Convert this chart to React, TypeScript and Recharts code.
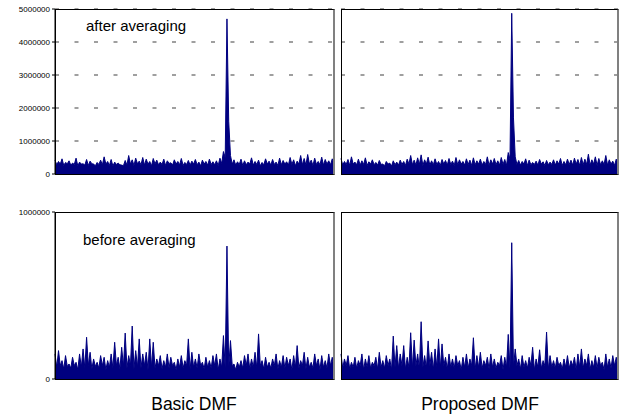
import React from 'react';
import { AreaChart, Area, XAxis, YAxis, CartesianGrid } from 'recharts';

// values are in thousands, the tick labels carry the full numbers
const TOP_TICKS = [0, 1000, 2000, 3000, 4000, 5000];
const TOP_TICK_LABELS = ['0', '1000000', '2000000', '3000000', '4000000', '5000000'];
const BOTTOM_TICKS = [0, 1000];
const BOTTOM_TICK_LABELS = ['0', '1000000'];

const PANEL_NOTES = ['after averaging', 'before averaging'];
const METHODS = ['Basic DMF', 'Proposed DMF'];

const BASIC_AFTER = [
  420, 280, 380, 300, 460, 260, 350, 310, 400, 270, 330, 290, 480, 250, 360, 300, 310, 270, 440, 260,
  390, 310, 300, 250, 350, 290, 420, 280, 520, 300, 380, 260, 440, 240, 360, 290, 330, 280, 270, 250,
  410, 270, 560, 300, 430, 260, 480, 310, 390, 280, 500, 270, 450, 300, 380, 250, 470, 310, 420, 280,
  360, 290, 450, 260, 400, 320, 340, 270, 430, 300, 380, 280, 470, 260, 350, 290, 410, 270, 390, 300,
  440, 280, 360, 250, 420, 300, 380, 270, 450, 290, 370, 280, 400, 260, 480, 320, 680, 500, 4700, 1600,
  560, 300, 430, 270, 370, 290, 450, 260, 400, 280, 360, 300, 490, 270, 380, 290, 420, 250, 350, 280,
  460, 300, 390, 270, 440, 290, 360, 260, 480, 280, 410, 300, 370, 270, 500, 290, 430, 250, 390, 300,
  560, 280, 470, 270, 590, 300, 420, 260, 480, 290, 380, 280, 510, 270, 440, 300, 400, 280, 460, 290,
];

const PROPOSED_AFTER = [
  470, 270, 380, 290, 440, 260, 520, 300, 360, 280, 450, 270, 400, 290, 490, 260, 370, 300, 430, 280,
  350, 270, 410, 290, 300, 250, 380, 300, 330, 240, 400, 280, 360, 270, 420, 290, 380, 260, 450, 300,
  560, 280, 420, 270, 490, 290, 580, 260, 430, 300, 510, 270, 400, 280, 460, 290, 380, 260, 440, 300,
  410, 270, 470, 290, 390, 260, 500, 280, 430, 300, 380, 270, 460, 290, 420, 260, 490, 280, 400, 300,
  450, 270, 380, 290, 520, 260, 430, 300, 470, 280, 400, 270, 500, 290, 440, 260, 650, 450, 4870, 1700,
  520, 290, 410, 270, 380, 300, 460, 260, 420, 280, 350, 290, 390, 270, 440, 300, 370, 260, 410, 280,
  360, 290, 430, 270, 400, 300, 470, 260, 380, 280, 450, 290, 420, 270, 480, 300, 440, 260, 500, 280,
  450, 290, 600, 270, 430, 300, 520, 260, 470, 280, 400, 290, 560, 270, 430, 300, 390, 260, 450, 280,
];

const BASIC_BEFORE = [
  150, 70, 170, 80, 110, 60, 140, 75, 90, 65, 130, 80, 100, 55, 150, 70, 180, 65, 250, 80,
  160, 60, 120, 75, 100, 65, 140, 80, 130, 55, 110, 70, 150, 65, 220, 80, 130, 60, 190, 75,
  275, 65, 140, 80, 317, 60, 170, 70, 240, 65, 150, 80, 160, 55, 240, 70, 220, 65, 120, 80,
  140, 60, 110, 70, 150, 65, 130, 80, 100, 55, 120, 70, 140, 65, 110, 80, 240, 60, 160, 70,
  120, 65, 150, 80, 100, 60, 130, 70, 110, 65, 140, 80, 150, 55, 120, 70, 260, 65, 796, 70,
  230, 80, 90, 55, 100, 70, 110, 65, 140, 80, 150, 60, 120, 70, 160, 65, 270, 80, 110, 60,
  130, 70, 100, 65, 120, 80, 150, 60, 110, 70, 140, 65, 130, 80, 120, 55, 140, 70, 200, 65,
  110, 80, 160, 60, 130, 70, 100, 65, 150, 80, 120, 55, 140, 70, 110, 65, 150, 80, 130, 60,
];

const PROPOSED_BEFORE = [
  150, 65, 120, 80, 140, 60, 100, 70, 130, 65, 110, 80, 150, 55, 120, 70, 140, 65, 100, 80,
  130, 60, 160, 70, 110, 65, 140, 80, 120, 55, 257, 70, 200, 65, 150, 80, 200, 60, 130, 70,
  277, 65, 233, 80, 150, 60, 343, 70, 140, 65, 228, 80, 160, 55, 180, 70, 240, 65, 210, 80,
  130, 60, 150, 70, 120, 65, 140, 80, 110, 55, 130, 70, 150, 65, 120, 80, 247, 60, 140, 70,
  160, 65, 110, 80, 130, 60, 150, 70, 120, 65, 100, 80, 140, 55, 130, 70, 267, 65, 816, 70,
  180, 80, 120, 60, 140, 70, 110, 65, 130, 80, 190, 55, 120, 70, 175, 65, 110, 80, 281, 60,
  140, 70, 110, 65, 130, 80, 100, 60, 120, 70, 140, 65, 110, 80, 130, 55, 150, 70, 180, 65,
  120, 80, 150, 60, 110, 70, 140, 65, 130, 80, 100, 55, 150, 70, 120, 65, 140, 80, 130, 60,
];

const FONT = '"Liberation Sans", Arial, sans-serif';
const NAVY = '#000080';

type PanelProps = {
  values: number[];
  ticks: number[];
  tickLabels: string[];
  grid: boolean;
  showLabels: boolean;
  left: number;
  top: number;
  width: number;
  height: number;
  margin: { top: number; right: number; bottom: number; left: number };
};

function Panel({ values, ticks, tickLabels, grid, showLabels, left, top, width, height, margin }: PanelProps) {
  const data = values.map((v, i) => ({ i, v }));
  const max = ticks[ticks.length - 1];
  const axisW = showLabels ? 50 : 0;
  const plotL = margin.left + axisW;
  const plotW = width - plotL - margin.right;
  const plotH = height - margin.top - margin.bottom;
  return (
    <div style={{ position: 'absolute', left, top, width, height }}>
      <AreaChart width={width} height={height} data={data} margin={margin}>
        {grid && (
          <CartesianGrid vertical={false} stroke="#808080" strokeWidth={1.3} strokeDasharray="4 15.5" />
        )}
        <XAxis dataKey="i" type="number" domain={[0, values.length - 1]} hide />
        <YAxis
          domain={[0, max]}
          ticks={ticks}
          width={axisW}
          stroke="#000"
          tick={{ fontSize: 8, fill: '#000', fontFamily: FONT }}
          tickLine={{ stroke: '#000' }}
          tickSize={3}
          tickMargin={2}
          axisLine={{ stroke: '#000' }}
          tickFormatter={(v: number) => (showLabels ? tickLabels[ticks.indexOf(v)] ?? '' : '')}
          allowDataOverflow
        />
        <Area
          type="linear"
          dataKey="v"
          stroke={NAVY}
          strokeWidth={1}
          fill={NAVY}
          fillOpacity={1}
          dot={false}
          activeDot={false}
          isAnimationActive={false}
        />
      </AreaChart>
      <div
        style={{
          position: 'absolute',
          left: plotL,
          top: margin.top,
          width: plotW + 1,
          height: plotH + 1,
          boxSizing: 'border-box',
          borderLeft: '1px solid #000',
          borderTop: '1px solid #000',
          borderBottom: '1px solid #000',
          borderRight: '2px solid #808080',
          pointerEvents: 'none',
        }}
      />
    </div>
  );
}

const textStyle: React.CSSProperties = {
  position: 'absolute',
  fontFamily: FONT,
  color: '#000',
  whiteSpace: 'nowrap',
  lineHeight: 1,
};

export default function App() {
  return (
    <div style={{ position: 'absolute', left: 0, top: 0, width: 629, height: 417, background: '#fff', fontFamily: FONT }}>
      <Panel values={BASIC_AFTER} ticks={TOP_TICKS} tickLabels={TOP_TICK_LABELS} grid showLabels
        left={0} top={0} width={340} height={180} margin={{ top: 9, right: 6, bottom: 6, left: 5 }} />
      <Panel values={PROPOSED_AFTER} ticks={TOP_TICKS} tickLabels={TOP_TICK_LABELS} grid showLabels={false}
        left={336} top={0} width={290} height={180} margin={{ top: 9, right: 8, bottom: 6, left: 5 }} />
      <Panel values={BASIC_BEFORE} ticks={BOTTOM_TICKS} tickLabels={BOTTOM_TICK_LABELS} grid={false} showLabels
        left={0} top={200} width={340} height={185} margin={{ top: 12, right: 6, bottom: 6, left: 5 }} />
      <Panel values={PROPOSED_BEFORE} ticks={BOTTOM_TICKS} tickLabels={BOTTOM_TICK_LABELS} grid={false} showLabels={false}
        left={336} top={200} width={290} height={185} margin={{ top: 12, right: 8, bottom: 6, left: 5 }} />

      <div style={{ ...textStyle, left: 86, top: 18, fontSize: 15 }}>{PANEL_NOTES[0]}</div>
      <div style={{ ...textStyle, left: 83, top: 232, fontSize: 15 }}>{PANEL_NOTES[1]}</div>
      <div style={{ ...textStyle, left: 194, top: 396, fontSize: 17.5, transform: 'translateX(-50%)' }}>{METHODS[0]}</div>
      <div style={{ ...textStyle, left: 480, top: 396, fontSize: 17.5, transform: 'translateX(-50%)' }}>{METHODS[1]}</div>
    </div>
  );
}
